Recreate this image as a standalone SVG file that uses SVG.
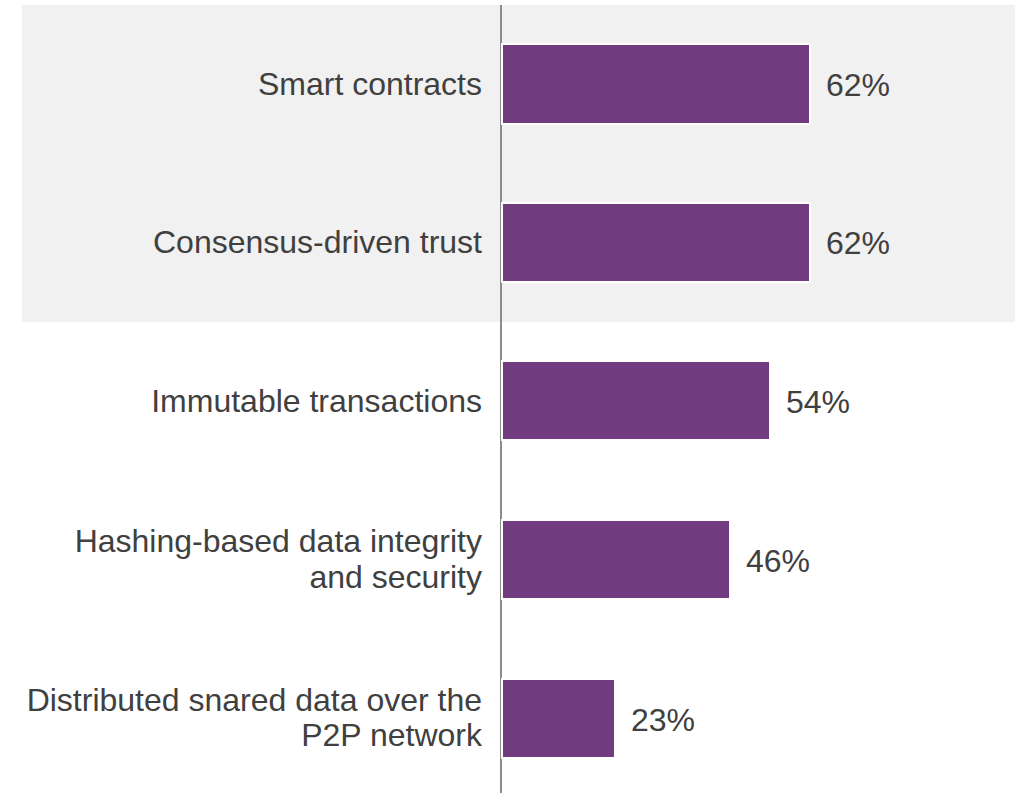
<svg xmlns="http://www.w3.org/2000/svg" width="1025" height="793" viewBox="0 0 1025 793">
<style>
.lbl{font-family:"Liberation Sans",Arial,sans-serif;font-size:32px;fill:#404040;text-anchor:end}
.val{font-family:"Liberation Sans",Arial,sans-serif;font-size:32px;fill:#404040}
.bar{fill:#713B80;stroke:#ffffff;stroke-width:2}
</style>
<rect x="0" y="0" width="1025" height="793" fill="#ffffff"/>
<rect x="22" y="5" width="993" height="317" fill="#f1f1f1"/>
<g id="connectors">
<line x1="501" y1="5" x2="501" y2="793" stroke="#8c8c8c" stroke-width="2"/>
</g>
<g id="bar1"><rect class="bar" x="502" y="44" width="308" height="80"/><text class="lbl" x="482" y="95">Smart contracts</text><text class="val" x="826" y="96">62%</text></g>
<g id="bar2"><rect class="bar" x="502" y="203" width="308" height="79"/><text class="lbl" x="482" y="253">Consensus-driven trust</text><text class="val" x="826" y="254">62%</text></g>
<g id="bar3"><rect class="bar" x="502" y="361" width="268" height="79"/><text class="lbl" x="482" y="412">Immutable transactions</text><text class="val" x="786" y="413">54%</text></g>
<g id="bar4"><rect class="bar" x="502" y="520" width="228" height="79"/><text class="lbl" x="482" y="552">Hashing-based data integrity</text><text class="lbl" x="482" y="588">and security</text><text class="val" x="746" y="572">46%</text></g>
<g id="bar5"><rect class="bar" x="502" y="679" width="113" height="79"/><text class="lbl" x="482" y="711">Distributed snared data over the</text><text class="lbl" x="482" y="746">P2P network</text><text class="val" x="631" y="731">23%</text></g>
</svg>
